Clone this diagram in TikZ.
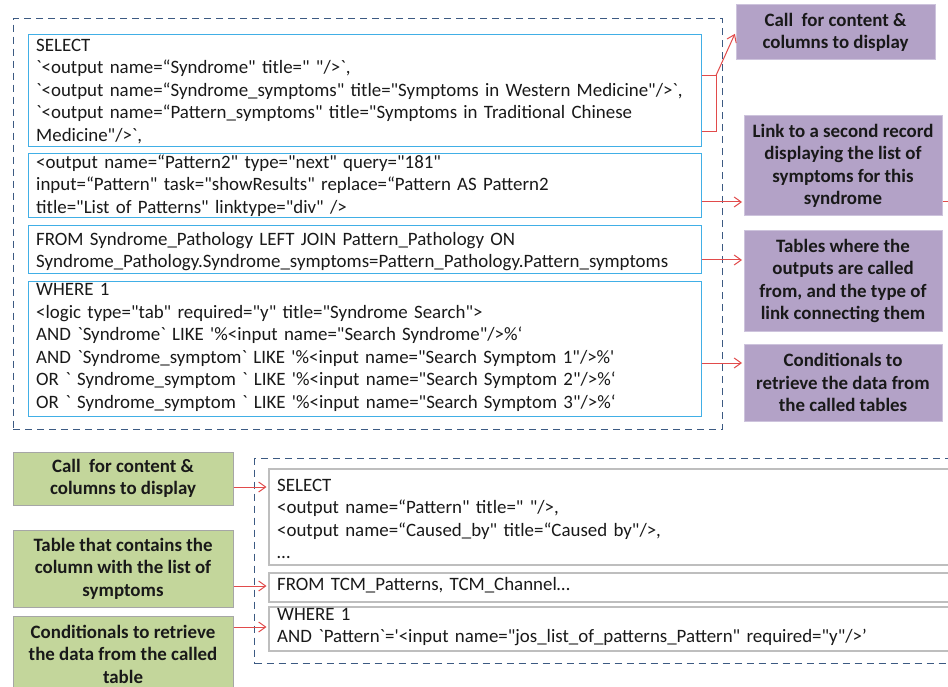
\documentclass[tikz,border=0pt]{standalone}
\usepackage{fontspec}
\setmainfont{Carlito}[Ligatures=TeXOff]
\usetikzlibrary{arrows.meta}
\definecolor{codeblue}{RGB}{65,175,230}
\definecolor{frameblue}{RGB}{60,90,130}
\definecolor{purplefill}{RGB}{179,162,199}
\definecolor{purpleline}{RGB}{205,195,220}
\definecolor{greenfill}{RGB}{195,214,155}
\definecolor{greenline}{RGB}{166,166,166}
\definecolor{graybox}{RGB}{190,190,190}
\definecolor{arrowred}{RGB}{225,75,75}
\definecolor{textdark}{RGB}{25,25,25}
\newcommand\cst{\rule[-6pt]{0pt}{22.5pt}}
\begin{document}
\begin{tikzpicture}[x=1pt,y=-1pt,
  codebox/.style={draw=codeblue,fill=white,line width=1.2pt,anchor=north west,inner sep=0pt},
  graycodebox/.style={draw=graybox,fill=white,line width=1.5pt,anchor=north west,inner sep=0pt},
  frame/.style={draw=frameblue,line width=1.4pt,dash pattern=on 7pt off 5pt,anchor=north west,inner sep=0pt},
  codetext/.style={anchor=north west,inner sep=0pt,text width=720pt,align=left,font=\fontsize{18.9pt}{22.5pt}\selectfont,text=textdark},
  note/.style={align=center,inner sep=0pt,font=\bfseries\fontsize{18.9pt}{22.5pt}\selectfont,text=textdark},
  purplenote/.style={note,fill=purplefill,draw=purpleline,line width=1pt},
  greennote/.style={note,fill=greenfill,draw=greenline,line width=1pt},
  arr/.style={draw=arrowred,line width=1pt,shorten >=1.5pt,-{Straight Barb[length=7pt,width=10pt]}},
  link/.style={draw=arrowred,line width=1pt}]
\useasboundingbox (0,0) rectangle (948,687);
\clip (0,0) rectangle (948,687);
\fill[white] (0,0) rectangle (948,687);

% top group
\node[frame,minimum width=709.5pt,minimum height=411pt] (frame1) at (12.5,18) {};
\node[codebox,minimum width=673pt,minimum height=112pt] (c1) at (28,34) {};
\node[codebox,minimum width=673pt,minimum height=64pt] (c2) at (28,153) {};
\node[codebox,minimum width=673pt,minimum height=48pt] (c3) at (28,225) {};
\node[codebox,minimum width=673pt,minimum height=135pt] (c4) at (28,281) {};

\node[codetext] (c1t) at (36,34.5) {\cst SELECT\\
`<output name=“Syndrome" title=" "/>`,\\
`<output name=“Syndrome\_symptoms" title="Symptoms in Western Medicine"/>`,\\
`<output name=“Pattern\_symptoms" title="Symptoms in Traditional Chinese\\
Medicine"/>`,};
\node[codetext] (c2t) at (36,151.5) {\cst <output name=“Pattern2" type="next" query="181"\\
input=“Pattern" task="showResults" replace=“Pattern AS Pattern2\\
title="List of Patterns" linktype="div" />};
\node[codetext] (c3t) at (36,228.5) {\cst FROM Syndrome\_Pathology LEFT JOIN Pattern\_Pathology ON\\
Syndrome\_Pathology.Syndrome\_symptoms=Pattern\_Pathology.Pattern\_symptoms};
\node[codetext] (c4t) at (36,279) {\cst WHERE 1\\
<logic type="tab" required="y" title="Syndrome Search">\\
AND `Syndrome` LIKE '\%<input name="Search Syndrome"/>\%‘\\
AND `Syndrome\_symptom` LIKE '\%<input name="Search Symptom 1"/>\%'\\
OR ` Syndrome\_symptom ` LIKE '\%<input name="Search Symptom 2"/>\%‘\\
OR ` Syndrome\_symptom ` LIKE '\%<input name="Search Symptom 3"/>\%‘};

\node[purplenote,minimum width=199pt,minimum height=55pt] (p1) at (835.5,32.5) {Call\ \ for content \&\\columns to display};
\node[purplenote,minimum width=198pt,minimum height=100pt] (p2) at (843,166) {Link to a second record\\displaying the list of\\symptoms for this\\syndrome};
\node[purplenote,minimum width=198pt,minimum height=100pt] (p3) at (843,281) {Tables where the\\outputs are called\\from, and the type of\\link connecting them};
\node[purplenote,minimum width=198pt,minimum height=77pt] (p4) at (843,382.5) {Conditionals to\\retrieve the data from\\the called tables};

% bottom group
\node[frame,minimum width=720pt,minimum height=205pt] (frame2) at (254,458) {};
\node[graycodebox,minimum width=700pt,minimum height=96pt] (d1) at (268,468) {};
\node[graycodebox,minimum width=700pt,minimum height=29pt] (d2) at (268,572) {};
\node[graycodebox,minimum width=700pt,minimum height=44pt] (d3) at (268,606) {};

\node[codetext] (d1t) at (277,474.5) {\cst SELECT\\
<output name=“Pattern" title=" "/>,\\
<output name=“Caused\_by" title=“Caused by"/>,\\
…};
\node[codetext] (d2t) at (277,573.5) {\cst FROM TCM\_Patterns, TCM\_Channel…};
\node[codetext] (d3t) at (277,603.5) {\cst WHERE 1\\
AND `Pattern`='<input name="jos\_list\_of\_patterns\_Pattern" required="y"/>’};

\node[greennote,minimum width=220pt,minimum height=53pt] (g1) at (123,478.5) {Call\ \ for content \&\\columns to display};
\node[greennote,minimum width=220pt,minimum height=77pt] (g2) at (123,568.5) {Table that contains the\\column with the list of\\symptoms};
\node[greennote,minimum width=220pt,minimum height=76pt] (g3) at (123,654) {Conditionals to retrieve\\the data from the called\\table};

% connectors
\coordinate (b1) at (716,75.5);
\coordinate (b2) at (716,132);
\draw[link] (c1.east |- b1) -- (b1) -- (b2) -- (c1.east |- b2);
\draw[arr] (b1) -- (p1.west);
\coordinate (y2) at (0,202);
\draw[arr] (c2.east |- y2) -- (p2.west |- y2);
\coordinate (out2) at (960,202);
\draw[link] (p2.east |- y2) -- (out2);
\coordinate (y3) at (0,260);
\draw[arr] (c3.east |- y3) -- (p3.west |- y3);
\coordinate (y4) at (0,363);
\draw[arr] (c4.east |- y4) -- (p4.west |- y4);
\coordinate (y5) at (0,487);
\draw[arr] (g1.east |- y5) -- (d1.west |- y5);
\coordinate (y6) at (0,586);
\draw[arr] (g2.east |- y6) -- (d2.west |- y6);
\coordinate (y7) at (0,627);
\draw[arr] (g3.east |- y7) -- (d3.west |- y7);
\end{tikzpicture}
\end{document}
